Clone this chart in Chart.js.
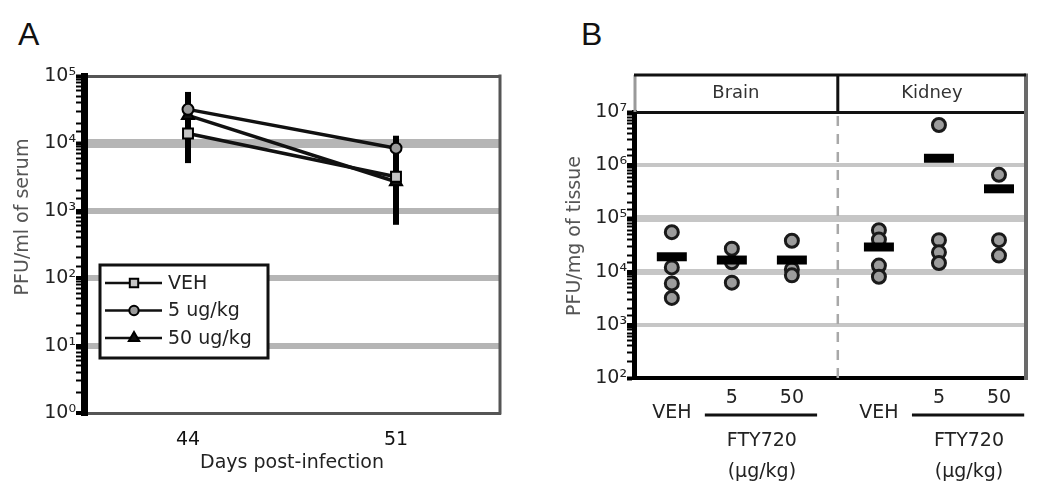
<!DOCTYPE html>
<html>
<head>
<meta charset="utf-8">
<script src="https://cdn.jsdelivr.net/npm/chart.js@4.4.1/dist/chart.umd.min.js"></script>
<style>
  body { margin: 0; background: #fff; width: 1050px; height: 504px; overflow: hidden; position: relative; }
  .panel { position: absolute; top: 0; }
  .letter { position: absolute; font: 32px "Liberation Sans", Arial, sans-serif; color: #111; }
</style>
</head>
<body>
<div class="letter" style="left:18px;top:16px">A</div>
<div class="letter" style="left:581px;top:16px">B</div>
<canvas id="chartA" class="panel" style="left:0" width="520" height="504"></canvas>
<canvas id="chartB" class="panel" style="left:540px" width="510" height="504"></canvas>
<script>
// ---- panel A: serum titres (PFU/ml) ----
const days = [44, 51];
const vehMean = [1.4e4, 3.2e3];
const vehLow = [5.1e3, 6.2e2];
const vehHigh = [2.4e4, 5.5e3];
const dose5Mean = [3.2e4, 8.5e3];
const dose5Low = [1.3e4, 4.5e3];
const dose5High = [5.8e4, 1.3e4];
const dose50Mean = [2.6e4, 2.7e3];
const dose50Low = [1.0e4, 1.1e3];
const dose50High = [4.6e4, 6.0e3];
const serumLabels = ['VEH', '5 ug/kg', '50 ug/kg'];

// ---- panel B: tissue titres (PFU/mg) ----
const groupLabels = ['VEH', '5', '50', 'VEH', '5', '50'];
const groupPos = [1, 2, 3, 4.45, 5.45, 6.45];
const brainVeh = [5.5e4, 1.2e4, 6.0e3, 3.2e3];
const brain5 = [2.7e4, 1.5e4, 6.2e3];
const brain50 = [3.8e4, 1.1e4, 8.5e3];
const kidneyVeh = [6.0e4, 4.0e4, 1.3e4, 8.0e3];
const kidney5 = [5.7e6, 3.9e4, 2.3e4, 1.45e4];
const kidney50 = [6.6e5, 3.9e4, 2.0e4];
const groupMeans = [1.9e4, 1.65e4, 1.65e4, 2.9e4, 1.35e6, 3.6e5];
const tissues = ['Brain', 'Kidney'];
const drugLabel = 'FTY720';
const unitLabel = '(\u03bcg/kg)';

Chart.defaults.font.family = "'DejaVu Sans', sans-serif";
Chart.defaults.color = '#222';

const SUP = ['\u2070', '\u00b9', '\u00b2', '\u00b3', '\u2074', '\u2075', '\u2076', '\u2077', '\u2078', '\u2079'];
function isPow10(v) {
  const l = Math.log10(v);
  return Math.abs(l - Math.round(l)) < 1e-6;
}
function powLabel(v) {
  return isPow10(v) ? '10' + SUP[Math.round(Math.log10(v))] : '';
}

function yTitle(text, cx, cy) {
  return {
    id: 'yTitle',
    afterDraw(chart) {
      const ctx = chart.ctx;
      ctx.save();
      ctx.translate(cx, cy);
      ctx.rotate(-Math.PI / 2);
      ctx.font = "19px 'DejaVu Sans'";
      ctx.fillStyle = '#555';
      ctx.textAlign = 'center';
      ctx.textBaseline = 'middle';
      ctx.fillText(text, 0, 0);
      ctx.restore();
    }
  };
}

// error bars drawn from the dataset's own low/high arrays
const errorBars = {
  id: 'errorBars',
  beforeDatasetsDraw(chart) {
    const {ctx, scales: {x, y}} = chart;
    ctx.save();
    ctx.strokeStyle = '#000';
    ctx.lineWidth = 6;
    chart.data.datasets.forEach(ds => {
      ds.data.forEach((p, i) => {
        const px = x.getPixelForValue(p.x);
        ctx.beginPath();
        ctx.moveTo(px, y.getPixelForValue(ds.errLow[i]));
        ctx.lineTo(px, y.getPixelForValue(ds.errHigh[i]));
        ctx.stroke();
      });
    });
    ctx.restore();
  }
};

const frameA = {
  id: 'frameA',
  beforeDatasetsDraw(chart) {
    const {ctx, chartArea: a} = chart;
    ctx.save();
    ctx.strokeStyle = '#555';
    ctx.lineWidth = 3;
    ctx.beginPath();
    ctx.moveTo(a.right, a.top - 1.5);
    ctx.lineTo(a.right, a.bottom + 1.5);
    ctx.stroke();
    ctx.restore();
  }
};

const legendBox = {
  id: 'legendBox',
  afterDraw(chart) {
    const {ctx, chartArea: a} = chart;
    const bx = a.left + 16, by = 265, bw = 168, bh = 93;
    ctx.save();
    ctx.fillStyle = '#fff';
    ctx.fillRect(bx, by, bw, bh);
    ctx.lineWidth = 3;
    ctx.strokeStyle = '#111';
    ctx.strokeRect(bx, by, bw, bh);
    chart.data.datasets.forEach((ds, i) => {
      const cy = by + 18 + i * 27.5;
      ctx.lineWidth = 2.5;
      ctx.strokeStyle = '#111';
      ctx.beginPath();
      ctx.moveTo(bx + 5, cy);
      ctx.lineTo(bx + 62, cy);
      ctx.stroke();
      ctx.fillStyle = ds.pointBackgroundColor;
      ctx.strokeStyle = ds.pointBorderColor;
      ctx.lineWidth = ds.pointBorderWidth;
      Chart.helpers.drawPoint(ctx, {pointStyle: ds.pointStyle, radius: ds.pointRadius * 0.85, borderWidth: ds.pointBorderWidth, rotation: 0}, bx + 34, cy);
      ctx.fillStyle = '#222';
      ctx.font = "19px 'DejaVu Sans'";
      ctx.textAlign = 'left';
      ctx.textBaseline = 'middle';
      ctx.fillText(ds.label, bx + 68, cy + 1);
    });
    ctx.restore();
  }
};

function pts(xs, ys) {
  return xs.map((d, i) => ({x: d, y: ys[i]}));
}

new Chart(document.getElementById('chartA'), {
  type: 'line',
  data: {
    datasets: [
      {label: serumLabels[0], data: pts(days, vehMean), errLow: vehLow, errHigh: vehHigh,
        pointStyle: 'rect', pointRadius: 7, pointBackgroundColor: '#c4c4c4', pointBorderColor: '#000', pointBorderWidth: 2,
        borderColor: '#111', borderWidth: 3.5},
      {label: serumLabels[1], data: pts(days, dose5Mean), errLow: dose5Low, errHigh: dose5High,
        pointStyle: 'circle', pointRadius: 5.5, pointBackgroundColor: '#9a9a9a', pointBorderColor: '#000', pointBorderWidth: 2,
        borderColor: '#111', borderWidth: 3.5},
      {label: serumLabels[2], data: pts(days, dose50Mean), errLow: dose50Low, errHigh: dose50High,
        pointStyle: 'triangle', pointRadius: 7, pointBackgroundColor: '#111', pointBorderColor: '#000', pointBorderWidth: 2,
        borderColor: '#111', borderWidth: 3.5}
    ]
  },
  options: {
    responsive: false,
    animation: false,
    devicePixelRatio: 1,
    layout: {padding: {top: 76, right: 20, left: 0, bottom: 0}},
    plugins: {legend: {display: false}, tooltip: {enabled: false}},
    scales: {
      x: {
        type: 'linear', min: 40.5, max: 54.5,
        afterBuildTicks: s => { s.ticks = days.map(d => ({value: d})); },
        afterFit: s => { s.height = 91; },
        border: {color: '#555', width: 3},
        grid: {display: false},
        ticks: {padding: 8, color: '#111', font: {size: 19}, maxRotation: 0},
        title: {display: true, text: 'Days post-infection', font: {size: 19}, color: '#222', padding: {top: 0, bottom: 30}}
      },
      y: {
        type: 'logarithmic', min: 1, max: 1e5,
        afterFit: s => { s.width = 84; },
        border: {color: '#000', width: 7},
        grid: {
          color: c => c.tick.value >= 1e5 ? '#555' : (isPow10(c.tick.value) && c.tick.value > 1 ? '#b5b5b5' : 'rgba(0,0,0,0)'),
          lineWidth: c => c.tick.value >= 1e5 ? 3 : (Math.round(c.tick.value) === 1e4 ? 9 : (isPow10(c.tick.value) ? 6 : 1)),
          tickLength: 8,
          tickColor: '#000',
          tickWidth: c => isPow10(c.tick.value) ? 4 : 2
        },
        ticks: {autoSkip: false, padding: 0, color: '#222', font: {size: 19}, callback: v => powLabel(v)}
      }
    }
  },
  plugins: [errorBars, frameA, legendBox, yTitle('PFU/ml of serum', 23, 217)]
});

// ---- panel B ----
const tissueSets = [brainVeh, brain5, brain50, kidneyVeh, kidney5, kidney50];
const tissuePoints = [];
tissueSets.forEach((vals, g) => vals.forEach(v => tissuePoints.push({x: groupPos[g], y: v})));
const sepValue = (groupPos[2] + groupPos[3]) / 2 + 0.04;

const frameB = {
  id: 'frameB',
  beforeDatasetsDraw(chart) {
    const {ctx, chartArea: a, scales: {x}} = chart;
    const sx = x.getPixelForValue(sepValue);
    ctx.save();
    ctx.strokeStyle = '#a8a8a8';
    ctx.lineWidth = 2.5;
    ctx.setLineDash([10, 8]);
    ctx.beginPath();
    ctx.moveTo(sx, a.top + 4);
    ctx.lineTo(sx, a.bottom);
    ctx.stroke();
    ctx.restore();
  },
  afterDraw(chart) {
    const {ctx, chartArea: a, scales: {x}} = chart;
    const sx = x.getPixelForValue(sepValue);
    const top0 = 75;
    ctx.save();
    // right border of plot + header
    ctx.strokeStyle = '#6a6a6a';
    ctx.lineWidth = 4;
    ctx.beginPath();
    ctx.moveTo(a.right, top0 - 1.5);
    ctx.lineTo(a.right, a.bottom + 2);
    ctx.stroke();
    // header strip
    ctx.strokeStyle = '#999';
    ctx.lineWidth = 3;
    ctx.beginPath();
    ctx.moveTo(a.left + 1, top0);
    ctx.lineTo(a.left + 1, a.top);
    ctx.stroke();
    ctx.strokeStyle = '#111';
    ctx.beginPath();
    ctx.moveTo(a.left, top0);
    ctx.lineTo(a.right, top0);
    ctx.moveTo(sx, top0);
    ctx.lineTo(sx, a.top);
    ctx.stroke();
    ctx.fillStyle = '#333';
    ctx.font = "18px 'DejaVu Sans'";
    ctx.textAlign = 'center';
    ctx.textBaseline = 'middle';
    ctx.fillText(tissues[0], (a.left + sx) / 2, (top0 + a.top) / 2);
    ctx.fillText(tissues[1], (sx + a.right) / 2, (top0 + a.top) / 2);
    // group labels under the axis
    ctx.fillStyle = '#222';
    ctx.font = "19px 'DejaVu Sans'";
    groupLabels.forEach((t, i) => {
      const px = x.getPixelForValue(groupPos[i]);
      ctx.fillText(t, px, t === 'VEH' ? a.bottom + 35 : a.bottom + 20);
    });
    [[1, 2], [4, 5]].forEach(([i, j]) => {
      const l = x.getPixelForValue(groupPos[i] - 0.45);
      const r = x.getPixelForValue(groupPos[j] + 0.42);
      ctx.strokeStyle = '#111';
      ctx.lineWidth = 3;
      ctx.beginPath();
      ctx.moveTo(l, a.bottom + 37);
      ctx.lineTo(r, a.bottom + 37);
      ctx.stroke();
      const mid = (x.getPixelForValue(groupPos[i]) + x.getPixelForValue(groupPos[j])) / 2;
      ctx.fillText(drugLabel, mid, a.bottom + 63);
      ctx.fillText(unitLabel, mid, a.bottom + 94);
    });
    ctx.restore();
  }
};

const tissueGrid = {1e7: 3, 1e6: 4, 1e5: 7, 1e4: 6, 1e3: 4};

new Chart(document.getElementById('chartB'), {
  type: 'scatter',
  data: {
    datasets: [
      {label: 'mean', data: groupPos.map((p, i) => ({x: p, y: groupMeans[i]})),
        pointStyle: 'line', pointRadius: 15, borderWidth: 9, borderColor: '#000', backgroundColor: '#000'},
      {label: 'animals', data: tissuePoints,
        pointStyle: 'circle', pointRadius: 6.5, pointBorderWidth: 3, borderColor: '#1a1a1a', backgroundColor: '#9c9c9c'}
    ]
  },
  options: {
    responsive: false,
    animation: false,
    devicePixelRatio: 1,
    layout: {padding: {top: 112, right: 12, left: 0, bottom: 0}},
    plugins: {legend: {display: false}, tooltip: {enabled: false}},
    scales: {
      x: {
        type: 'linear', min: 0.37, max: 6.9,
        afterFit: s => { s.height = 126; },
        border: {color: '#000', width: 4},
        grid: {display: false},
        ticks: {display: false}
      },
      y: {
        type: 'logarithmic', min: 100, max: 1e7,
        afterFit: s => { s.width = 94; },
        border: {color: '#000', width: 5},
        grid: {
          color: c => {
            const v = Math.round(c.tick.value);
            if (v >= 1e7) return '#111';
            return isPow10(v) && v > 100 ? '#c6c6c6' : 'rgba(0,0,0,0)';
          },
          lineWidth: c => tissueGrid[Math.round(c.tick.value)] || 1,
          tickLength: 7,
          tickColor: '#000',
          tickWidth: c => isPow10(c.tick.value) ? 4 : 2
        },
        ticks: {autoSkip: false, padding: 0, color: '#222', font: {size: 19}, callback: v => powLabel(v)}
      }
    }
  },
  plugins: [frameB, yTitle('PFU/mg of tissue', 35, 236)]
});
</script>
</body>
</html>
